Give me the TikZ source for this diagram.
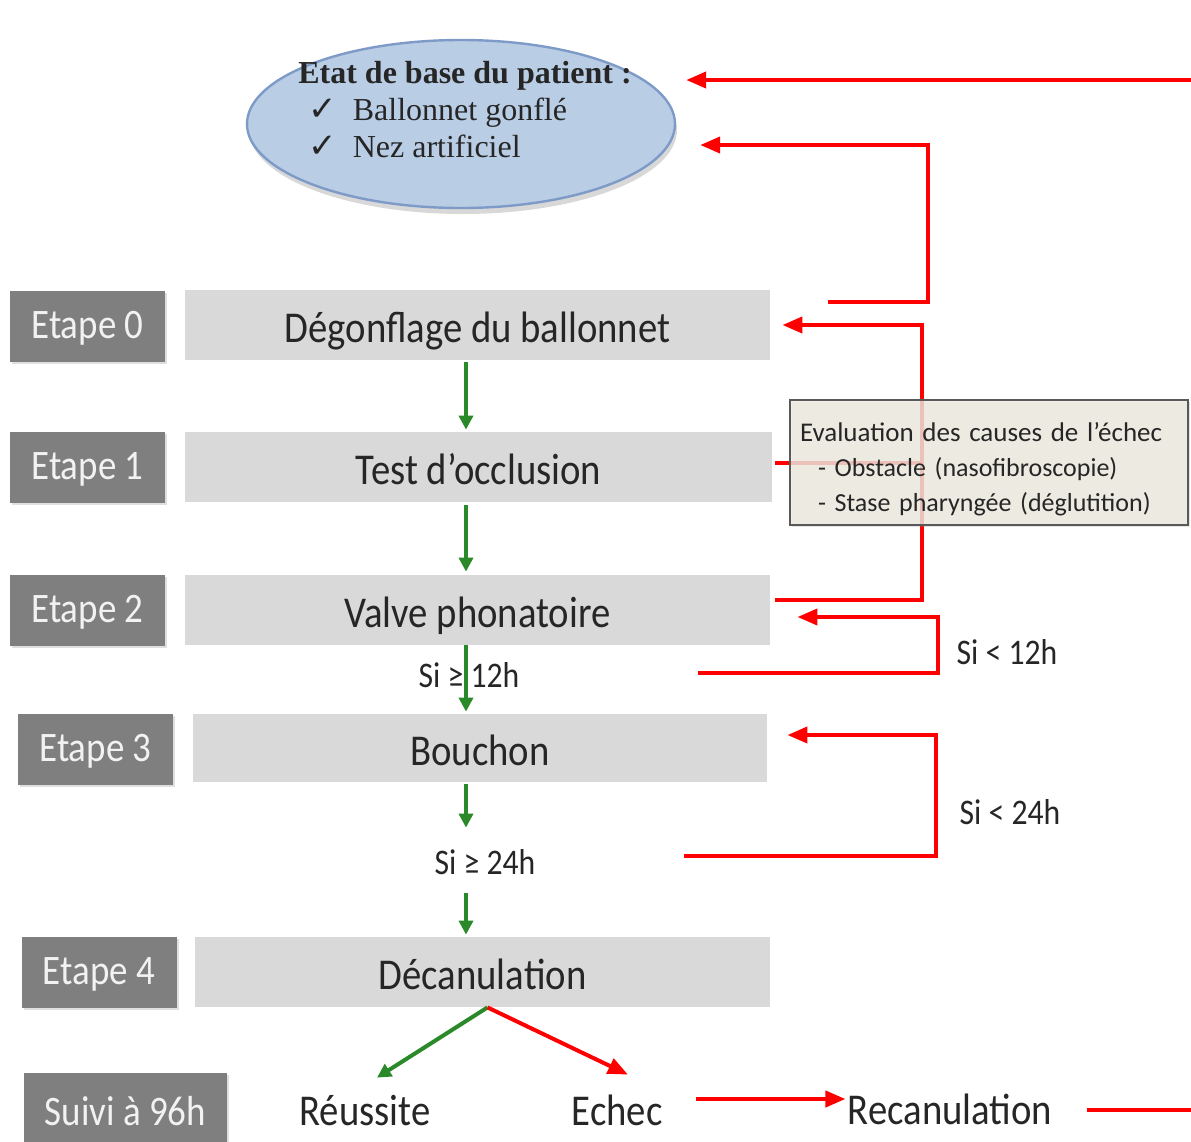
\documentclass[tikz,border=0pt]{standalone}
\usepackage{fontspec}
\setmainfont{Carlito}
\newfontfamily\etroite[FakeStretch=0.88]{Carlito}
\newfontfamily\serifetat{Liberation Serif}
\newfontfamily\symbole{DejaVu Sans}
\usetikzlibrary{arrows.meta,shapes.geometric,shadows,positioning}
\definecolor{grisbloc}{HTML}{D9D9D9}
\definecolor{grisetape}{HTML}{7F7F7F}
\definecolor{bleuetat}{HTML}{B9CDE5}
\definecolor{bordetat}{HTML}{7E9BC8}
\definecolor{beigeeval}{HTML}{EEECE1}
\definecolor{vertfl}{HTML}{2A8A2A}
\definecolor{textegris}{HTML}{262626}
\tikzset{
  etape/.style={fill=grisetape,text=white!95!black,minimum width=77.5pt,minimum height=35.5pt,
    inner sep=0pt,text height=14pt,text depth=2pt,font=\etroite\fontsize{21}{24}\selectfont,
    drop shadow={opacity=0.25,shadow xshift=1pt,shadow yshift=-1pt}},
  bloc/.style={fill=grisbloc,text=textegris,minimum height=35pt,inner sep=0pt,
    text height=18pt,text depth=1pt,font=\etroite\fontsize{22}{25}\selectfont},
  issue/.style={text=textegris,inner sep=1pt,anchor=base,text height=15pt,text depth=4pt,
    font=\etroite\fontsize{22}{25}\selectfont},
  cond/.style={text=textegris,inner sep=1pt,text height=12pt,text depth=0pt,
    font=\etroite\fontsize{18}{21}\selectfont},
  fleche/.style={draw=red,line width=2pt,-{Triangle[length=10pt,width=8pt]}},
  trait/.style={draw=red,line width=2pt},
  flvert/.style={draw=vertfl,line width=2pt,-{Triangle[length=7pt,width=7pt]}},
}

\begin{document}
\begin{tikzpicture}[x=0.5pt,y=-0.5pt]
\clip (0,0) rectangle (1191,1142);
\fill[white] (0,0) rectangle (1191,1142);

% etat de base
\node[ellipse,fill=bleuetat,draw=bordetat,line width=1.2pt,minimum width=214pt,minimum height=84pt,
  drop shadow={opacity=0.3,shadow xshift=1pt,shadow yshift=-3pt}] (etat) at (461,124) {};
\node[align=left,font=\serifetat\fontsize{16}{18.5}\selectfont,text=black!85] (etattxt) at (465,110)
  {\textbf{Etat de base du patient :}\\
   \hspace*{5pt}{\symbole\fontsize{17}{18.5}\selectfont ✓}\hspace{8pt}Ballonnet gonflé\\
   \hspace*{5pt}{\symbole\fontsize{17}{18.5}\selectfont ✓}\hspace{8pt}Nez artificiel};

% etapes
\node[etape] (e0) at (87.5,326) {Etape 0};
\node[etape] (e1) at (87.5,467.5) {Etape 1};
\node[etape] (e2) at (87.5,610) {Etape 2};
\node[etape] (e3) at (95.5,749) {Etape 3};
\node[etape] (e4) at (99,972.5) {Etape 4};
\node[etape,minimum width=101.5pt,minimum height=40pt] (suivi) at (125.5,1113) {Suivi à 96h};

\node[bloc,minimum width=292.5pt] (b0) at (477.5,325) {Dégonflage du ballonnet};
\node[bloc,minimum width=293.5pt] (b1) at (478.5,467) {Test d’occlusion};
\node[bloc,minimum width=292.5pt] (b2) at (477.5,610) {Valve phonatoire};
\node[bloc,minimum width=287pt,minimum height=34pt] (b3) at (480,748) {Bouchon};
\node[bloc,minimum width=287.5pt] (b4) at (482.5,972) {Décanulation};

\node[issue] (reussite) at (365,1125) {Réussite};
\node[issue] (echec) at (617,1125) {Echec};
\node[issue] (recan) at (950,1124) {Recanulation};

\node[cond] (si12) at (469,675) {Si ≥ 12h};
\node[cond] (si24) at (485,862) {Si ≥ 24h};
\node[cond] (sinf12) at (1007,652) {Si < 12h};
\node[cond] (sinf24) at (1010,812) {Si < 24h};

% fleches vertes
\coordinate (axe) at (466,0);
\draw[flvert] ([yshift=-1pt]b0.south -| axe) -- ([yshift=1pt]b1.north -| axe);
\draw[flvert] ([yshift=-1.5pt]b1.south -| axe) -- ([yshift=1.5pt]b2.north -| axe);
\draw[flvert] (b2.south -| axe) -- ([yshift=1pt]b3.north -| axe);
\draw[flvert] ([yshift=-1pt]b3.south -| axe) -- ([yshift=10pt]si24.north -| axe);
\draw[flvert] ([yshift=-8.5pt]si24.south -| axe) -- ([yshift=1pt]b4.north -| axe);
\draw[flvert] ([xshift=2.5pt]b4.south) -- ([xshift=6pt,yshift=7.5pt]reussite.north);

% retours rouges
\draw[fleche] ([xshift=2.5pt]b4.south) -- ([xshift=5.5pt,yshift=9pt]echec.north);
\draw[fleche] ([xshift=15.5pt,yshift=13pt]echec.base east) -- ([yshift=13pt]echec.base east -| recan.west);
\coordinate (sortie) at (1200,1110);
\coordinate (entree) at (1200,80);
\draw[fleche] ([xshift=16pt,yshift=7pt]recan.base east) -- (sortie) -- (entree) -- ([xshift=5pt]entree -| etat.east);

\coordinate (d0) at (828,302);
\coordinate (h0) at (928,145);
\draw[fleche] (d0) -| (h0) -- ([xshift=12pt]h0 -| etat.east);

\coordinate (v1) at (922,0);
\draw[fleche] ([xshift=2.5pt,yshift=5pt]b2.east) -| (v1 |- b0.east) -- ([xshift=6pt]b0.east);
\draw[trait] ([xshift=1.5pt,yshift=2pt]b1.east) -- ([yshift=2pt]v1 |- b1.east);

\coordinate (d2) at (698,673);
\coordinate (v2) at (938,0);
\draw[fleche] (d2) -| ([yshift=-3.5pt]v2 |- b2.east) -- ([xshift=13.5pt,yshift=-3.5pt]b2.east);

\coordinate (d3) at (684,856);
\coordinate (v3) at (936,0);
\draw[fleche] (d3) -| ([yshift=6.5pt]v3 |- b3.east) -- ([xshift=10pt,yshift=6.5pt]b3.east);

% evaluation
\node[draw=gray!70!black,fill=beigeeval,fill opacity=0.8,text opacity=1,line width=1pt,
  minimum width=199pt,minimum height=62.5pt,text width=189pt,inner xsep=5pt,align=left,
  text=textegris,font=\fontsize{13}{17.5}\selectfont,
  drop shadow={opacity=0.2,shadow xshift=1pt,shadow yshift=-1pt}] (eval) at (989,462.5)
  {\rule{0pt}{16pt}{\fontsize{13.5}{17.5}\selectfont Evaluation des causes de l’échec}\\
   \hspace*{9pt}- Obstacle (nasofibroscopie)\\
   \hspace*{9pt}- Stase pharyngée (déglutition)};
\end{tikzpicture}
\end{document}
